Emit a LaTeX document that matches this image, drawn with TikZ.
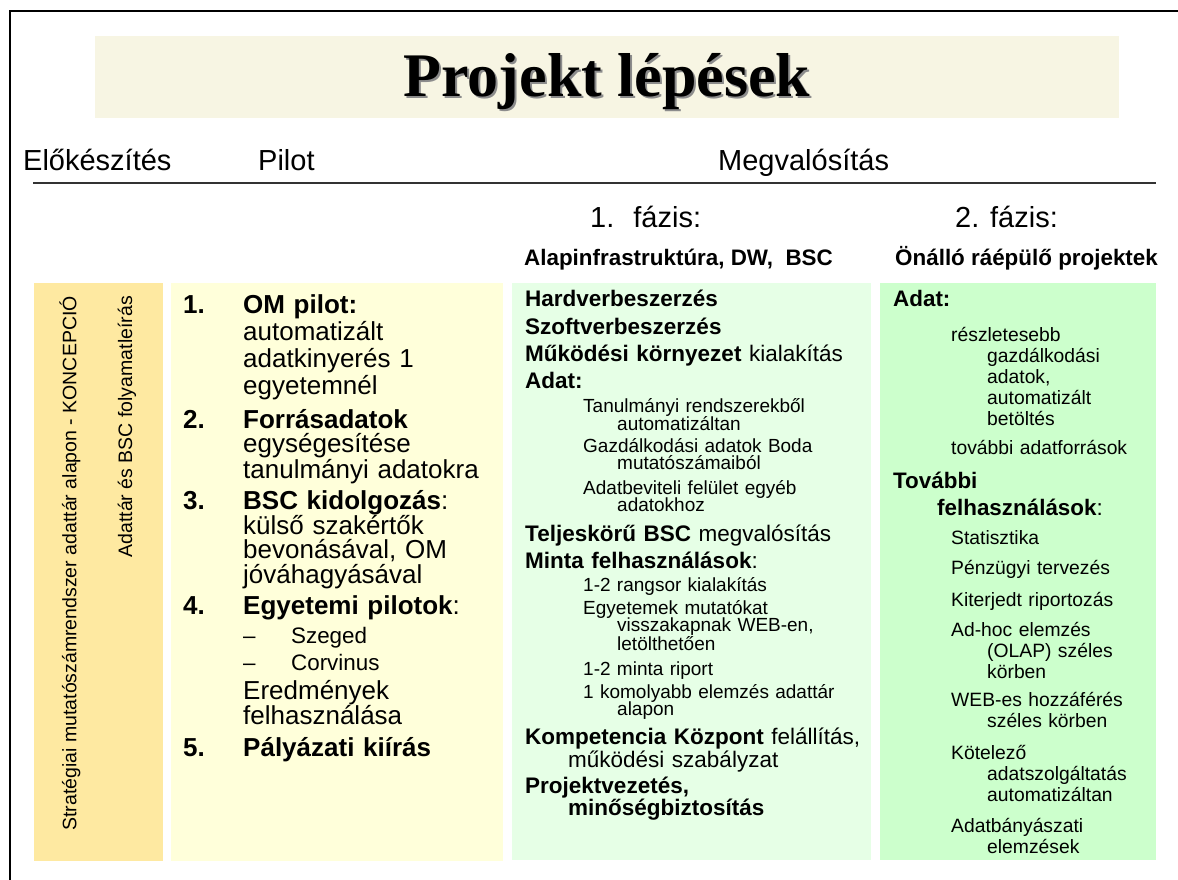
\documentclass[tikz,border=0pt]{standalone}
\usepackage{fontspec}
\setmainfont{Liberation Sans}
\newfontfamily\titlefont{Liberation Serif}
\usetikzlibrary{positioning}
\definecolor{prepfill}{RGB}{254,233,161}
\definecolor{pilotfill}{RGB}{255,255,218}
\definecolor{phaseAfill}{RGB}{230,255,230}
\definecolor{phaseBfill}{RGB}{204,255,204}
\definecolor{titlefill}{RGB}{247,245,227}
\newcommand{\fs}[2]{\fontsize{#1}{#2}\selectfont}

\begin{document}
\begin{tikzpicture}[x=1pt,y=-1pt,
  txt/.style={anchor=base west, inner sep=0pt, align=left, text width=400pt},
  head/.style={anchor=base west, inner sep=0pt, font=\fs{29}{32}},
  phead/.style={anchor=base west, inner sep=0pt, font=\bfseries\fs{22.4}{25}},
  ttl/.style={anchor=base, inner sep=0pt, font=\titlefont\bfseries\fs{62}{66}},
  vert/.style={rotate=90, anchor=east, inner sep=0pt, font=\fs{19.5}{22}},
  num/.style={anchor=base west, inner sep=0pt, font=\bfseries\fs{26}{27}},
  pil/.style={txt, font=\fs{26}{24.5}},
  mainA/.style={txt, font=\fs{22.5}{27}},
  subA/.style={txt, font=\fs{19}{17.8}},
  mainB/.style={txt, font=\fs{22.4}{27}},
  subB/.style={txt, font=\fs{19.3}{21.2}}]
\useasboundingbox (0,0) rectangle (1178,880);
% frame and title
\draw[line width=2pt] (10,880) -- (10,11) -- (1178,11);
\fill[titlefill] (95,36) rectangle (1119,118);
\node[ttl, text=black!45] (titleshadow) at (609,99) {Projekt lépések};
\node[ttl] (title) at (607,97) {Projekt lépések};
% phase headers
\node[head] (prep) at (23,171) {Előkészítés};
\node[head] (pilot) at (258,171) {Pilot};
\node[head] (impl) at (718,171) {Megvalósítás};
\draw[line width=1.3pt, black!80] (33,183) -- (1156,183);
\node[head] (phA) at (590,227) {1.\hspace{19pt}fázis:};
\node[head] (phB) at (955,227) {2. fázis:};
\node[phead] (phAtitle) at (524,265) {Alapinfrastruktúra, DW,\ \ BSC};
\node[phead] (phBtitle) at (895,265) {Önálló ráépülő projektek};
% column backgrounds
\fill[prepfill] (34,283) rectangle (163,861);
\fill[pilotfill] (171,283) rectangle (503,861);
\fill[phaseAfill] (512,283) rectangle (871,860);
\fill[phaseBfill] (880,283) rectangle (1156,860);
% preparation
\node[vert] (concept) at (70,296) {Stratégiai mutatószámrendszer adattár alapon - KONCEPCIÓ};
\node[vert] (process) at (127,296) {Adattár és BSC folyamatleírás};
% pilot
\node[num] (n1) at (183,313) {1.};
\node[num] (n2) at (183,428) {2.};
\node[num] (n3) at (183,509) {3.};
\node[num] (n4) at (183,614) {4.};
\node[num] (n5) at (183,756) {5.};
\node[pil, font=\fs{26}{27.3}] (om) at (243,313) {\textbf{OM pilot:}\\automatizált\\adatkinyerés 1\\egyetemnél};
\node[pil] (src) at (243,428) {\textbf{Forrásadatok}\\egységesítése\\tanulmányi adatokra};
\node[pil, font=\fs{26}{24.3}] (bsc) at (243,509) {\textbf{BSC kidolgozás}:\\külső szakértők\\bevonásával, OM\\jóváhagyásával};
\node[pil] (uni) at (243,614) {\textbf{Egyetemi pilotok}:};
\node[pil, font=\fs{22.4}{27}] (unilist) at (243,643) {–\hspace{35.5pt}Szeged\\–\hspace{35.5pt}Corvinus};
\node[pil] (results) at (243,699) {Eredmények\\felhasználása};
\node[pil] (call) at (243,756) {\textbf{Pályázati kiírás}};
% phase 1
\node[mainA] (hw) at (525,306) {\textbf{Hardverbeszerzés}};
\node[mainA] (sw) at (525,334) {\textbf{Szoftverbeszerzés}};
\node[mainA] (env) at (525,361) {\textbf{Működési környezet} kialakítás};
\node[mainA] (dataA) at (525,388) {\textbf{Adat:}};
\node[subA] (study) at (583,412) {Tanulmányi rendszerekből\\\hspace*{34pt}automatizáltan};
\node[subA] (fin) at (583,452) {Gazdálkodási adatok Boda\\\hspace*{34pt}mutatószámaiból};
\node[subA] (entry) at (583,494) {Adatbeviteli felület egyéb\\\hspace*{34pt}adatokhoz};
\node[mainA] (full) at (525,541) {\textbf{Teljeskörű BSC} megvalósítás};
\node[mainA] (sample) at (525,568) {\textbf{Minta felhasználások}:};
\node[subA] (rank) at (583,591) {1-2 rangsor kialakítás};
\node[subA] (web) at (583,614) {Egyetemek mutatókat\\\hspace*{34pt}visszakapnak WEB-en,\\\hspace*{34pt}letölthetően};
\node[subA] (report) at (583,675) {1-2 minta riport};
\node[subA] (deep) at (583,698) {1 komolyabb elemzés adattár\\\hspace*{34pt}alapon};
\node[mainA, font=\fs{22.5}{23}] (comp) at (525,744) {\textbf{Kompetencia Központ} felállítás,\\\hspace*{43pt}működési szabályzat};
\node[mainA, font=\fs{22.5}{22}] (pm) at (525,793) {\textbf{Projektvezetés,}\\\hspace*{43pt}\textbf{minőségbiztosítás}};
% phase 2
\node[mainB] (dataB) at (893,306) {\textbf{Adat:}};
\node[subB] (detail) at (951,341) {részletesebb\\\hspace*{36pt}gazdálkodási\\\hspace*{36pt}adatok,\\\hspace*{36pt}automatizált\\\hspace*{36pt}betöltés};
\node[subB] (more) at (951,454) {további adatforrások};
\node[mainB] (useB) at (893,488) {\textbf{További}\\\hspace*{44pt}\textbf{felhasználások}:};
\node[subB] (stat) at (951,544) {Statisztika};
\node[subB] (plan) at (951,574) {Pénzügyi tervezés};
\node[subB] (rept) at (951,606) {Kiterjedt riportozás};
\node[subB] (olap) at (951,636) {Ad-hoc elemzés\\\hspace*{36pt}(OLAP) széles\\\hspace*{36pt}körben};
\node[subB] (webacc) at (951,706) {WEB-es hozzáférés\\\hspace*{36pt}széles körben};
\node[subB] (oblig) at (951,759) {Kötelező\\\hspace*{36pt}adatszolgáltatás\\\hspace*{36pt}automatizáltan};
\node[subB] (mining) at (951,832) {Adatbányászati\\\hspace*{36pt}elemzések};
\end{tikzpicture}
\end{document}
